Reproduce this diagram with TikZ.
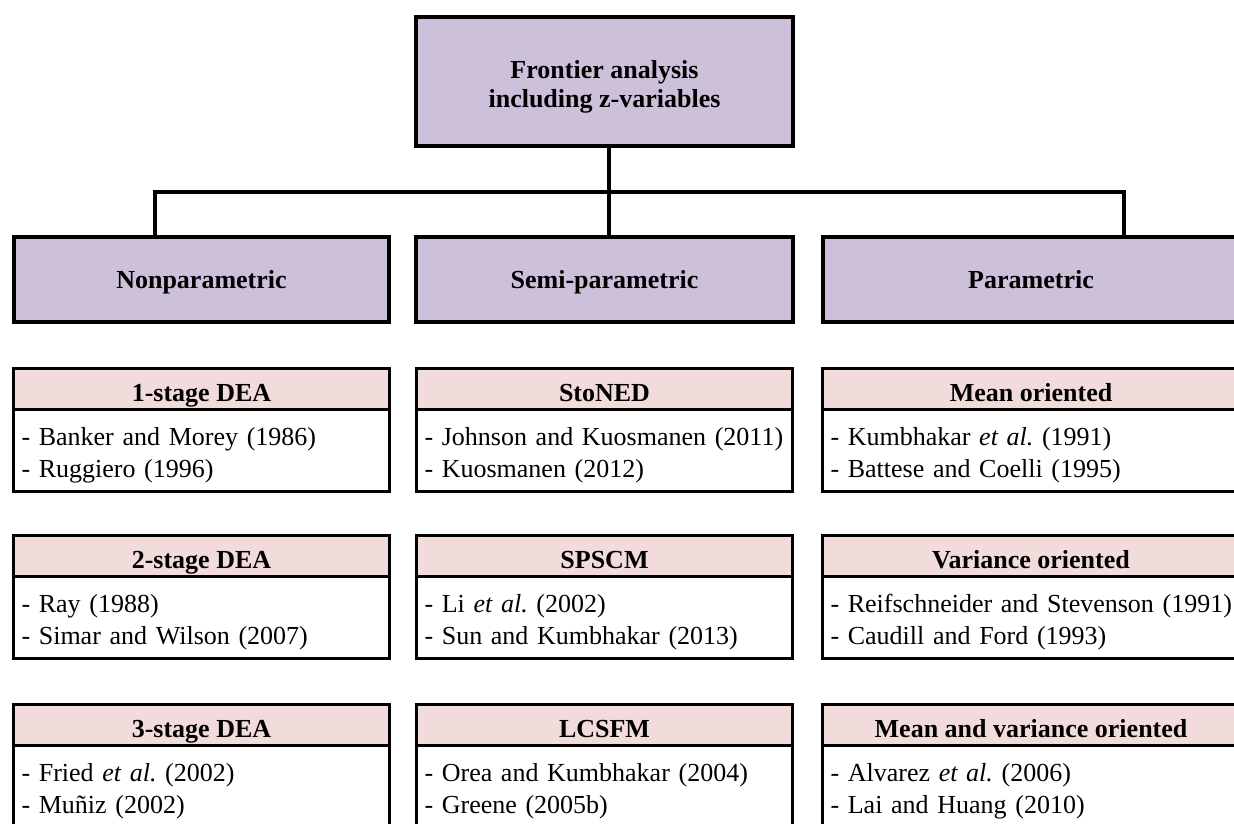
\documentclass[tikz,border=0pt]{standalone}
\usepackage{fontspec}
\setmainfont{Liberation Serif}
\usepackage{tikz}
\usetikzlibrary{positioning}
\definecolor{colorGroup}{HTML}{CCC0DA}
\definecolor{colorHead}{HTML}{F2DCDB}
\tikzset{
  rootbox/.style={draw, line width=4pt, fill=colorGroup, minimum width=377pt, minimum height=129pt, align=center, font=\bfseries\fontsize{26pt}{29pt}\selectfont, text height=51pt, text depth=0pt},
  groupbox/.style={draw, line width=4pt, fill=colorGroup, minimum width=#1, minimum height=85pt, font=\bfseries, text height=20pt, text depth=2pt},
  headcell/.style={draw, line width=3pt, outer sep=0pt, inner sep=0pt, fill=colorHead, minimum width=#1, minimum height=41pt, font=\bfseries, text height=24pt, text depth=0pt},
  refcell/.style={draw, line width=3pt, outer sep=0pt, inner xsep=8pt, inner ysep=0pt, text width=#1, minimum height=82pt, align=left, font=\fontsize{26pt}{32pt}\selectfont, text height=20pt, text depth=31pt},
  link/.style={line width=4pt}
}
\begin{document}
\begin{tikzpicture}[x=1pt, y=-1pt, node font=\fontsize{26pt}{26pt}\selectfont]
\clip (0,0) rectangle (1234,823);
\node[rootbox] (fa) at (604.5,81.5) {Frontier analysis\\including z-variables};
\node[groupbox=375pt] (np) at (201.5,279.5) {Nonparametric};
\node[groupbox=377pt] (sp) at (604.5,279.5) {Semi-parametric};
\node[groupbox=416pt] (pm) at (1031,279.5) {Parametric};
\draw[link] ([xshift=4.5pt]fa.south) -- ([xshift=4.5pt]sp.north);
\draw[link] ([xshift=-46.5pt]np.north) -- ++(0,-43) -| ([xshift=93pt]pm.north);
% nonparametric
\node[headcell=376pt] (np1) at (201.5,389) {1-stage DEA};
\node[refcell=360pt, below=0pt of np1] (np1r) {- Banker and Morey (1986)\\- Ruggiero (1996)};
\node[headcell=376pt] (np2) at (201.5,556) {2-stage DEA};
\node[refcell=360pt, below=0pt of np2] (np2r) {- Ray (1988)\\- Simar and Wilson (2007)};
\node[headcell=376pt] (np3) at (201.5,725) {3-stage DEA};
\node[refcell=360pt, below=0pt of np3] (np3r) {- Fried \textit{et al.}\ (2002)\\- Muñiz (2002)};
% semi-parametric
\node[headcell=376pt] (sp1) at (604.5,389) {StoNED};
\node[refcell=360pt, below=0pt of sp1] (sp1r) {- Johnson and Kuosmanen (2011)\\- Kuosmanen (2012)};
\node[headcell=376pt] (sp2) at (604.5,556) {SPSCM};
\node[refcell=360pt, below=0pt of sp2] (sp2r) {- Li \textit{et al.}\ (2002)\\- Sun and Kumbhakar (2013)};
\node[headcell=376pt] (sp3) at (604.5,725) {LCSFM};
\node[refcell=360pt, below=0pt of sp3] (sp3r) {- Orea and Kumbhakar (2004)\\- Greene (2005b)};
% parametric (cut off on the right)
\node[headcell=417pt] (pm1) at (1031,389) {Mean oriented};
\node[refcell=440pt, anchor=north west] (pm1r) at (pm1.south west) {- Kumbhakar \textit{et al.}\ (1991)\\- Battese and Coelli (1995)};
\node[headcell=417pt] (pm2) at (1031,556) {Variance oriented};
\node[refcell=440pt, anchor=north west] (pm2r) at (pm2.south west) {- Reifschneider and Stevenson (1991)\\- Caudill and Ford (1993)};
\node[headcell=417pt] (pm3) at (1031,725) {Mean and variance oriented};
\node[refcell=440pt, anchor=north west] (pm3r) at (pm3.south west) {- Alvarez \textit{et al.}\ (2006)\\- Lai and Huang (2010)};
\end{tikzpicture}
\end{document}
